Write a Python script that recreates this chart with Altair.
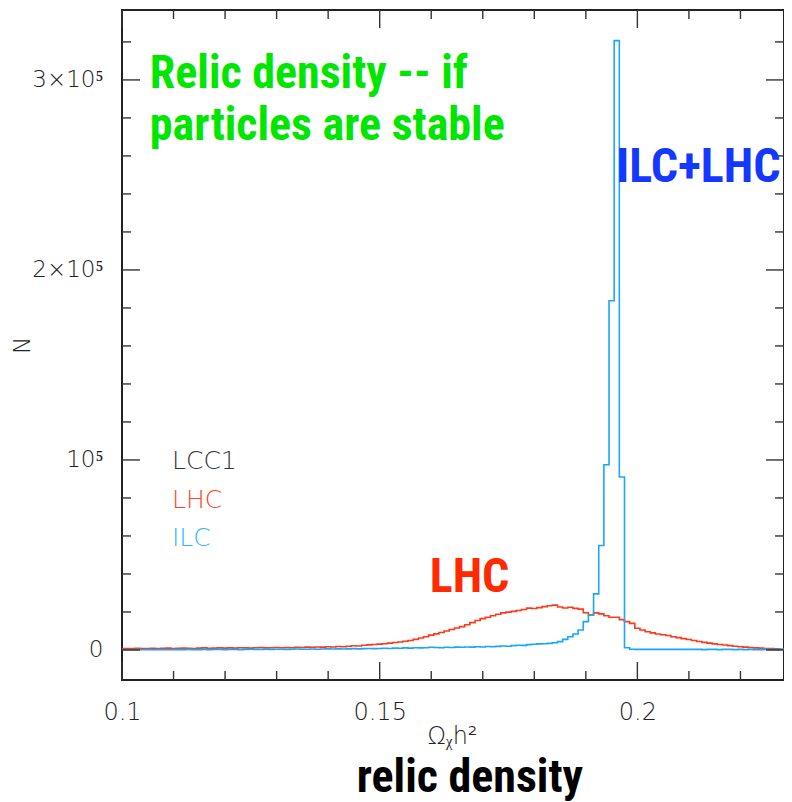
import altair as alt
import pandas as pd
import numpy as np

# ---- histogram data (bin width 0.001, centres 0.100 ... 0.230) ----
BIN_START = 0.100
BIN_WIDTH = 0.001

lhc_counts = [
    800, 800, 700, 900, 800, 700, 900, 800, 900, 1000,
    800, 900, 1000, 900, 800, 1000, 1100, 900, 1000, 1100,
    1000, 1100, 1000, 1200, 1100, 1000, 1200, 1300, 1100, 1200,
    1300, 1200, 1300, 1200, 1400, 1300, 1500, 1400, 1600, 1500,
    1700, 1600, 1800, 1700, 2000, 2200, 2100, 2500, 2700, 2900,
    3100, 3300, 3600, 3900, 4200, 4600, 5000, 5600, 6300, 7000,
    7800, 8500, 9200, 10000, 10800, 11600, 12300, 13300, 14400, 15500,
    16500, 17200, 18000, 18800, 19500, 19900, 20300, 20800, 21300, 22000,
    21800, 22300, 22800, 23300, 23600, 22600, 22100, 22500, 21900, 21500,
    19600, 18400, 19500, 19000, 18000, 17200, 17200, 16000, 14900, 14000,
    11400, 10500, 9600, 9000, 8400, 8000, 7600, 7000, 6500, 6000,
    5500, 5000, 4500, 4000, 3600, 3200, 2900, 2600, 2300, 2000,
    1700, 1500, 1300, 1100, 1000, 800, 700, 600, 400, 400, 300,
]

ilc_counts = [
    100, 100, 100, 200, 100, 200, 100, 200, 200, 100,
    200, 200, 200, 300, 200, 200, 300, 200, 300, 300,
    200, 300, 300, 200, 300, 400, 300, 300, 400, 300,
    400, 400, 300, 400, 500, 400, 400, 500, 400, 500,
    600, 500, 600, 500, 600, 700, 600, 700, 800, 700,
    800, 900, 800, 1000, 900, 1100, 1000, 1200, 1100, 1200,
    1400, 1300, 1200, 1400, 1300, 1500, 1400, 1600, 1500, 1700,
    1600, 1800, 1700, 1900, 2100, 2000, 2300, 2500, 2400, 2800,
    3000, 3200, 3300, 3500, 3800, 4400, 5600, 7000, 8400, 10500,
    14900, 18400, 29500, 55000, 97500, 183800, 320700, 91000, 1200, 400,
    300, 300, 300, 300, 300, 300, 300, 300, 300, 300,
    300, 300, 300, 200, 300, 300, 200, 300, 300, 200,
    300, 200, 300, 200, 200, 300, 200, 200, 300, 200, 200,
]

x_tick_major = [0.1, 0.15, 0.2]
x_tick_minor = [0.11, 0.12, 0.13, 0.14, 0.16, 0.17, 0.18, 0.19, 0.21, 0.22]
y_tick_major = [0, 100000, 200000, 300000]
y_tick_minor = [20000, 40000, 60000, 80000, 120000, 140000, 160000, 180000,
                220000, 240000, 260000, 280000, 320000]

XMIN, XMAX = 0.1, 0.22845
YMIN, YMAX = -15800, 336800

centres = np.round(BIN_START + BIN_WIDTH * np.arange(len(lhc_counts)), 4)
df = pd.concat([
    pd.DataFrame({"x": centres, "n": lhc_counts, "s": "LHC"}),
    pd.DataFrame({"x": centres, "n": ilc_counts, "s": "ILC"}),
])

xs = alt.Scale(domain=[XMIN, XMAX], nice=False, zero=False)
ys = alt.Scale(domain=[YMIN, YMAX], nice=False, zero=False)

THIN = "DejaVu Sans"
BOLD = "Roboto Condensed"

x_axis = alt.Axis(values=x_tick_major, format=".2~f", labelFlush=False, labelFontSize=24,
                  title="Ωᵪh²", titleFont=THIN, titleFontSize=24, titleFontWeight=200,
                  titleColor="#222", titleX=330, titleY=63, titleAlign="center",
                  titleBaseline="alphabetic", labelPadding=20)
y_axis = alt.Axis(values=y_tick_major, labelFontSize=23,
                  labelExpr="datum.value == 0 ? '0' : datum.value == 100000 ? '10⁵' : (datum.value/100000) + '×10⁵'",
                  title="N", titleFont=THIN, titleFontSize=23, titleFontWeight=200,
                  titleColor="#222", titleX=-100, titleY=335, titleAlign="center",
                  titleBaseline="middle", labelPadding=19)

lines = alt.Chart(df).mark_line(interpolate="step", clip=True, strokeWidth=1.6).encode(
    x=alt.X("x:Q", scale=xs, axis=x_axis),
    y=alt.Y("n:Q", scale=ys, axis=y_axis),
    color=alt.Color("s:N", scale=alt.Scale(domain=["LHC", "ILC"], range=["#ff3a1a", "#1aa6ff"]), legend=None),
    order=alt.Order("x:Q"),
)

TICK = "#333"


def xticks(vals, length):
    d = pd.DataFrame({"v": vals})
    bot = alt.Chart(d).mark_rule(color=TICK, strokeWidth=1.4, y2Offset=-length).encode(
        x=alt.X("v:Q", scale=xs), y=alt.datum(YMIN), y2=alt.datum(YMIN))
    top = alt.Chart(d).mark_rule(color=TICK, strokeWidth=1.4, y2Offset=length).encode(
        x=alt.X("v:Q", scale=xs), y=alt.datum(YMAX), y2=alt.datum(YMAX))
    return [bot, top]


def yticks(vals, length):
    d = pd.DataFrame({"v": vals})
    left = alt.Chart(d).mark_rule(color=TICK, strokeWidth=1.4, x2Offset=length).encode(
        y=alt.Y("v:Q", scale=ys), x=alt.datum(XMIN), x2=alt.datum(XMIN))
    right = alt.Chart(d).mark_rule(color=TICK, strokeWidth=1.4, x2Offset=-length).encode(
        y=alt.Y("v:Q", scale=ys), x=alt.datum(XMAX), x2=alt.datum(XMAX))
    return [left, right]


def label(x, y, text, color, font, size, weight, align="left", baseline="alphabetic"):
    d = pd.DataFrame({"x": [x], "y": [y], "t": [text]})
    return alt.Chart(d).mark_text(align=align, baseline=baseline, font=font, fontSize=size,
                                  fontWeight=weight, color=color).encode(
        x=alt.X("x:Q", scale=xs), y=alt.Y("y:Q", scale=ys), text="t:N")


annotations = [
    label(0.1054, 295800, "Relic density -- if", "#00e600", BOLD, 46, "bold"),
    label(0.1054, 268400, "particles are stable", "#00e600", BOLD, 46, "bold"),
    label(0.2278, 246300, "ILC+LHC", "#1438ff", BOLD, 48, "bold", align="right"),
    label(0.1597, 30500, "LHC", "#ff2a00", BOLD, 48, "bold"),
    label(0.1097, 99200, "LCC1", "#333333", THIN, 25, 200, baseline="middle"),
    label(0.1097, 79000, "LHC", "#ff4422", THIN, 25, 200, baseline="middle"),
    label(0.1097, 58900, "ILC", "#33b4ff", THIN, 25, 200, baseline="middle"),
    label(0.1675, -74700, "relic density", "#000000", BOLD, 46, "bold", align="center"),
]

layers = [lines] + xticks(x_tick_major, 18) + xticks(x_tick_minor, 9) \
    + yticks(y_tick_major, 18) + yticks(y_tick_minor, 9) + annotations

chart = alt.layer(*layers).properties(
    width=662, height=670,
    autosize=alt.AutoSizeParams(type="none"),
    padding={"left": 114, "top": 2, "right": 0, "bottom": 122},
    background="white",
).configure_view(
    stroke="#222", strokeWidth=2
).configure_axis(
    domain=False, ticks=False, grid=False,
    labelFont=THIN, labelFontWeight=200, labelColor="#222",
)

chart.save("out.html", embed_options={"renderer": "svg", "actions": False})
